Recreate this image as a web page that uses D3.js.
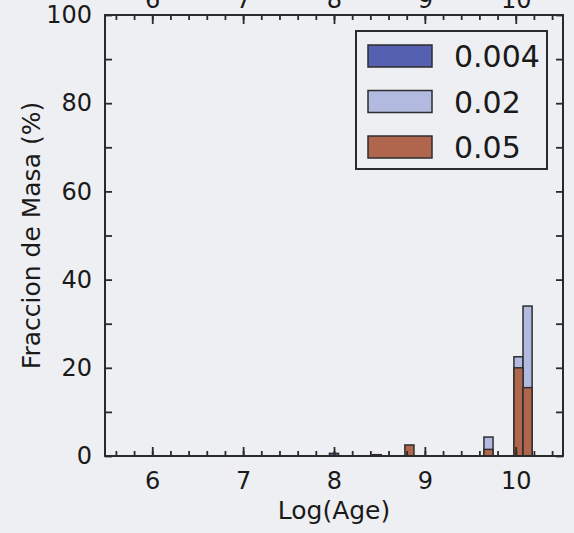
<!DOCTYPE html>
<meta charset="utf-8">
<style>
body { margin: 0; background: #eeeff2; }
svg { display: block; font-family: "DejaVu Sans", sans-serif; }
.bar { stroke: #2e2e2e; stroke-width: 1.5px; }
</style>
<svg width="574" height="533"></svg>
<script src="https://cdn.jsdelivr.net/npm/d3@7"></script>
<script>

// histogram bins (left edge in Log(Age), width 0.1) and mass fraction (%)
var binLeft = [7.95, 8.42, 8.78, 9.65, 9.98, 10.08];
var binWidth = 0.1;
var z004 = [0.6, 0.3, 0, 0, 0, 0];
var z02 = [0, 0, 0, 4.3, 22.5, 34];
var z05 = [0, 0, 2.5, 1.5, 20, 15.5];

var seriesNames = ["0.004", "0.02", "0.05"];
var seriesValues = [z004, z02, z05];
var colors = ["#5560b0", "#b3badf", "#b0664c"];

var xTicks = [6, 7, 8, 9, 10];
var yTicks = [0, 20, 40, 60, 80, 100];

var svg = d3.select("svg"),
    mLeft = 105, mRight = 563, mTop = 15, mBottom = 456;

var x = d3.scaleLinear().domain([5.48, 10.52]).range([mLeft, mRight]);
var y = d3.scaleLinear().domain([0, 100]).range([mBottom, mTop]);

svg.append("rect")
    .attr("x", 0).attr("y", 0).attr("width", 574).attr("height", 533)
    .attr("fill", "#eeeff2");

// bars
seriesValues.forEach(function(vals, s) {
  svg.append("g").selectAll("rect")
    .data(vals.map(function(v, i) { return {x0: binLeft[i], v: v}; }).filter(function(d) { return d.v > 0; }))
    .enter().append("rect")
      .attr("class", "bar")
      .attr("x", function(d) { return x(d.x0); })
      .attr("width", function(d) { return x(d.x0 + binWidth) - x(d.x0); })
      .attr("y", function(d) { return y(d.v); })
      .attr("height", function(d) { return y(0) - y(d.v); })
      .attr("fill", colors[s]);
});

var minorX = d3.range(56, 106, 2).map(function(d) { return d / 10; });
var minorY = d3.range(0, 101, 10);

function styleAxis(g) {
  g.select(".domain").remove();
  g.selectAll("line").attr("stroke", "#2a2a2a").attr("stroke-width", 1.8);
  g.selectAll("text").attr("font-size", 24).attr("fill", "#1a1a1a")
    .attr("font-family", "DejaVu Sans, sans-serif");
}

// bottom axis
svg.append("g").attr("transform", "translate(0," + mBottom + ")")
  .call(d3.axisBottom(x).tickValues(minorX).tickSize(-5).tickFormat(""))
  .call(styleAxis);
svg.append("g").attr("transform", "translate(0," + mBottom + ")")
  .call(d3.axisBottom(x).tickValues(xTicks).tickSize(-9).tickPadding(16).tickFormat(d3.format("d")))
  .call(styleAxis);

// top axis (labels cut off by the image edge)
svg.append("g").attr("transform", "translate(0," + mTop + ")")
  .call(d3.axisTop(x).tickValues(minorX).tickSize(-5).tickFormat(""))
  .call(styleAxis);
svg.append("g").attr("transform", "translate(0," + mTop + ")")
  .call(d3.axisTop(x).tickValues(xTicks).tickSize(-9).tickPadding(7).tickFormat(d3.format("d")))
  .call(styleAxis);

// left axis
svg.append("g").attr("transform", "translate(" + mLeft + ",0)")
  .call(d3.axisLeft(y).tickValues(minorY).tickSize(-7).tickPadding(13).tickFormat(function(d) { return d % 20 === 0 ? d : ""; }))
  .call(styleAxis);
// right axis
svg.append("g").attr("transform", "translate(" + mRight + ",0)")
  .call(d3.axisRight(y).tickValues(minorY).tickSize(-7).tickFormat(""))
  .call(styleAxis);

// frame
svg.append("rect")
    .attr("x", mLeft).attr("y", mTop)
    .attr("width", mRight - mLeft).attr("height", mBottom - mTop)
    .attr("fill", "none").attr("stroke", "#2a2a2a").attr("stroke-width", 2);

// axis titles
svg.append("text")
    .attr("x", 334).attr("y", 519)
    .attr("text-anchor", "middle").attr("font-size", 25).attr("fill", "#1a1a1a")
    .text("Log(Age)");
svg.append("text")
    .attr("transform", "translate(40," + (mTop + mBottom) / 2 + ") rotate(-90)")
    .attr("text-anchor", "middle").attr("font-size", 25).attr("fill", "#1a1a1a")
    .text("Fraccion de Masa (%)");

// legend
var legend = svg.append("g").attr("transform", "translate(356,31)");
legend.append("rect")
    .attr("width", 191).attr("height", 138)
    .attr("fill", "#eeeff2").attr("stroke", "#2a2a2a").attr("stroke-width", 2);
seriesNames.forEach(function(name, i) {
  legend.append("rect")
      .attr("class", "bar")
      .attr("x", 12).attr("y", 14 + i * 45.5)
      .attr("width", 64).attr("height", 22)
      .attr("fill", colors[i]);
  legend.append("text")
      .attr("x", 98).attr("y", 36 + i * 45.5)
      .attr("font-size", 30).attr("fill", "#1a1a1a")
      .text(name);
});

</script>
